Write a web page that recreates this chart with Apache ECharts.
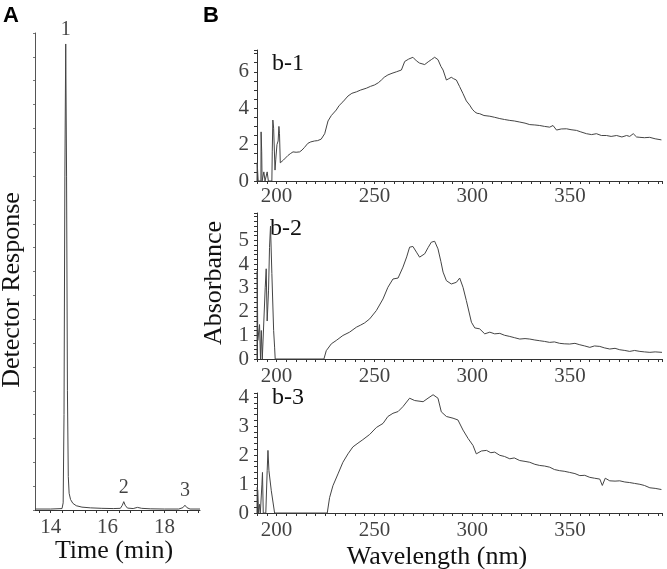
<!DOCTYPE html>
<html>
<head>
<meta charset="utf-8">
<script src="https://cdn.jsdelivr.net/npm/echarts@6/dist/echarts.min.js"></script>
<style>html,body{margin:0;padding:0;background:#fff;}#c{width:667px;height:569px;}</style>
</head>
<body>
<div id="c"></div>
<script>
// ---------- Panel A: chromatogram ----------
const chromTime = [13.45,14.0,14.4,14.44,14.47,14.5,14.53,14.56,14.59,14.62,14.65,14.7,14.78,14.9,15.1,15.4,15.8,16.2,16.45,16.52,16.57,16.62,16.7,16.9,17.05,17.12,17.2,17.5,18.0,18.5,18.65,18.72,18.79,18.9,19.25];
const chromResp = [0.2,0.2,0.3,1.5,20,70,97.7,70,25,7,3.5,2.2,1.4,0.9,0.6,0.45,0.35,0.3,0.35,1.0,1.75,1.0,0.4,0.3,0.55,0.6,0.35,0.25,0.2,0.2,0.5,1.0,0.5,0.2,0.2];
const peakTime = [14.53,16.57,18.72];
const peakResp = [97.7,1.75,1.0];
const peakNames = ['1','2','3'];
const chromXLabels = [14,16,18];
const chromXTicks = [13.6,14.0,14.4,14.8,15.2,15.6,16.0,16.4,16.8,17.2,17.6,18.0,18.4,18.8,19.2];

// ---------- Panel B: UV spectra ----------
const wl1 = [190.0,190.1,190.5,190.6,192.0,192.1,192.4,192.6,193.4,193.5,
  194.0,194.1,195.1,195.2,195.7,195.8,197.6,197.8,198.1,198.5,
  199.2,199.6,200.2,200.8,201.2,201.5,201.9,202.4,203.5,204.5,
  205.8,207.0,208.4,210.0,211.8,213.0,214.3,216.0,217.5,219.4,
  221.0,222.8,224.6,226.3,228.0,230.5,232.0,233.9,236.5,238.5,
  240.8,243.0,245.9,248.0,250.1,252.0,253.6,255.0,256.9,259.0,
  261.2,263.8,265.5,267.5,269.7,271.5,273.1,275.7,277.5,279.1,
  280.8,282.5,284.0,285.1,286.8,288.0,289.3,290.5,291.9,293.5,
  295.3,297.0,298.7,300.0,301.3,302.5,303.8,306.0,309.0,311.5,
  314.1,316.5,319.2,321.5,324.3,327.0,329.4,332.0,334.5,337.0,
  339.6,341.3,343.1,345.5,348.2,350.5,353.3,355.5,358.4,361.0,
  363.5,366.0,368.6,371.0,373.8,376.5,378.9,380.5,382.3,384.0,
  385.7,388.0,390.7,393.5,396.7];
const abs1 = [0,1.0,1.0,0,0,2.7,1.6,0,0,0.5,
  0.5,0,0,0.5,0.5,0,0,1.6,3.35,2.9,
  0.6,1.2,2.0,2.2,3.0,2.6,1.0,1.1,1.15,1.1,
  1.4,1.5,1.6,1.58,1.6,1.7,1.85,2.07,2.15,2.2,
  2.22,2.3,2.6,3.3,3.6,3.9,4.15,4.35,4.67,4.82,
  4.9,5.0,5.1,5.2,5.28,5.4,5.55,5.7,5.83,5.92,
  6.0,6.1,6.57,6.7,6.8,6.6,6.48,6.4,6.55,6.67,
  6.8,6.67,6.3,6.1,5.55,5.62,5.7,5.62,5.55,5.2,
  4.8,4.4,4.17,3.95,3.8,3.72,3.7,3.6,3.56,3.5,
  3.43,3.38,3.33,3.3,3.24,3.18,3.1,3.08,3.05,3.0,
  2.96,3.05,2.8,2.86,2.87,2.82,2.78,2.7,2.6,2.55,
  2.6,2.5,2.5,2.45,2.5,2.42,2.5,2.45,2.6,2.42,
  2.4,2.38,2.4,2.32,2.26];

const wl2 = [190.0,190.1,190.3,190.4,191.3,191.8,192.2,192.7,193.5,194.2,
  194.7,195.2,195.9,196.4,196.9,197.6,198.5,199.0,199.3,224.2,
  225.4,228.0,230.5,233.9,237.3,240.8,243.0,245.0,247.6,251.0,
  254.4,256.9,259.5,262.1,264.6,266.5,268.0,269.7,271.5,273.1,
  275.7,277.5,279.1,280.8,282.5,284.0,285.1,286.8,289.3,291.9,
  293.6,295.3,297.0,299.6,301.3,303.8,306.4,309.0,311.5,314.1,
  316.5,319.2,321.5,324.3,327.0,329.4,332.0,334.5,337.0,339.6,
  342.0,344.7,347.0,349.8,352.5,355.0,357.5,360.1,362.5,365.2,
  367.5,370.3,373.0,375.4,378.0,380.5,383.0,385.7,388.0,390.8,
  393.5,397.0];
const abs2 = [0,3.7,1.9,0.78,1.45,0,1.2,0,0,3.0,
  3.8,1.6,2.9,4.7,5.6,3.6,1.2,0.5,0,0,
  0.35,0.64,0.78,0.99,1.13,1.34,1.43,1.52,1.69,2.04,
  2.53,3.02,3.37,3.41,3.87,4.3,4.71,4.74,4.5,4.29,
  4.43,4.7,4.92,4.96,4.64,4.1,3.66,3.3,3.16,3.23,
  3.41,3.02,2.46,1.55,1.31,1.27,1.06,1.13,1.06,1.08,
  1.0,0.95,0.9,0.84,0.86,0.84,0.8,0.77,0.74,0.70,
  0.72,0.66,0.64,0.63,0.66,0.6,0.55,0.49,0.55,0.53,
  0.47,0.42,0.45,0.39,0.36,0.32,0.36,0.32,0.3,0.28,
  0.3,0.28];

const wl3 = [190.0,190.1,190.4,190.8,191.3,191.7,192.3,192.5,192.8,193.2,
  194.5,195.2,195.6,196.1,197.3,199.0,225.9,227.1,228.8,231.4,
  233.9,236.5,239.0,241.6,244.1,247.6,251.0,254.4,256.9,259.5,
  262.1,264.6,268.0,270.6,274.9,277.4,280.0,282.5,284.2,286.8,
  290.2,292.7,295.3,297.9,300.4,302.1,304.7,307.3,309.5,311.5,
  314.1,316.5,319.2,321.5,324.3,327.0,329.4,332.0,334.5,337.0,
  339.6,342.0,344.7,347.0,349.8,352.5,355.0,357.5,360.1,362.5,
  365.2,366.5,368.0,370.3,373.0,375.4,378.0,380.5,383.0,385.7,
  388.0,390.8,393.5,396.7];
const abs3 = [0,0.88,0.77,0,0.3,0,0,0.97,1.4,0,
  0,1.46,2.16,1.46,0.77,0,0,0.53,0.94,1.35,
  1.75,2.04,2.28,2.41,2.53,2.71,2.95,3.09,3.33,3.44,
  3.5,3.67,3.96,3.88,3.84,3.96,4.08,3.96,3.49,3.33,
  3.27,3.21,2.86,2.57,2.33,2.04,2.14,2.16,2.08,2.1,
  1.99,1.95,1.87,1.9,1.81,1.78,1.75,1.68,1.64,1.62,
  1.58,1.5,1.46,1.44,1.4,1.36,1.29,1.3,1.23,1.2,
  1.17,0.95,1.2,1.11,1.1,1.11,1.07,1.05,1.02,0.99,
  0.95,0.87,0.85,0.81];

const wlLabels = [200,250,300,350];
const b1YLabels = [0,2,4,6];
const b2YLabels = [0,1,2,3,4,5];
const b3YLabels = [0,1,2,3,4];
const panelNames = ['b-1','b-2','b-3'];

// ---------- build ----------
const zip = (xs, ys) => xs.map((x, i) => [x, ys[i]]);
const SERIF = 'Liberation Serif';
const LINE = '#444';
const AX = '#333';
const WL_MIN = 190;

function xAxisB(gi) {
  return {
    type: 'value', gridIndex: gi, min: WL_MIN, max: 397, interval: 5,
    axisLine: {show: true, onZero: false, lineStyle: {color: AX, width: 1}},
    axisTick: {show: true, length: 3, inside: false, lineStyle: {color: AX}},
    axisLabel: {show: false},
    splitLine: {show: false}
  };
}
function yAxisB(gi, max, interval) {
  return {
    type: 'value', gridIndex: gi, min: 0, max: max, interval: interval,
    axisLine: {show: true, onZero: false, lineStyle: {color: AX, width: 1}},
    axisTick: {show: true, length: 3, lineStyle: {color: AX}},
    axisLabel: {show: false},
    splitLine: {show: false}
  };
}
function lineSeries(xi, data) {
  return {
    type: 'line', xAxisIndex: xi, yAxisIndex: xi, data: data,
    showSymbol: false, symbol: 'none', silent: true,
    lineStyle: {color: LINE, width: 1}
  };
}
// tick labels drawn as series labels at axis values (serif font)
function tickLabelSeries(xi, points, position, distance) {
  return {
    type: 'scatter', xAxisIndex: xi, yAxisIndex: xi, symbolSize: 0, silent: true, clip: false,
    data: points.map(p => ({value: p.v, name: p.t})),
    label: {show: true, position: position, distance: distance, formatter: q => q.name,
      fontFamily: SERIF, fontSize: 21, color: '#111'}
  };
}
const xLab = (list, y) => list.map(v => ({v: [v, y], t: String(v)}));
const yLab = (list, x) => list.map(v => ({v: [x, v], t: String(v)}));

const chart = echarts.init(document.getElementById('c'), null, {renderer: 'canvas'});
chart.setOption({
  animation: false,
  backgroundColor: '#fff',
  grid: [
    {left: 35, top: 33, width: 165, height: 477},
    {left: 257, top: 50, width: 405, height: 131},
    {left: 257, top: 213, width: 405, height: 146},
    {left: 257, top: 393, width: 405, height: 120}
  ],
  xAxis: [
    {
      type: 'value', gridIndex: 0, min: 13.45, max: 19.25,
      axisLine: {show: true, onZero: false, lineStyle: {color: AX, width: 1}},
      axisTick: {show: true, length: 3, customValues: chromXTicks, lineStyle: {color: AX}},
      axisLabel: {show: false},
      splitLine: {show: false}
    },
    xAxisB(1), xAxisB(2), xAxisB(3)
  ],
  yAxis: [
    {
      type: 'value', gridIndex: 0, min: 0, max: 100, interval: 5,
      axisLine: {show: true, onZero: false, lineStyle: {color: '#555', width: 1}},
      axisTick: {show: true, length: 2, lineStyle: {color: '#777'}},
      axisLabel: {show: false},
      splitLine: {show: false}
    },
    yAxisB(1, 7.2, 0.5),
    yAxisB(2, 6.15, 0.2),
    yAxisB(3, 4.14, 0.2)
  ],
  series: [
    lineSeries(0, zip(chromTime, chromResp)),
    {
      type: 'scatter', xAxisIndex: 0, yAxisIndex: 0, symbolSize: 0, silent: true,
      data: peakTime.map((t, i) => ({value: [t, peakResp[i]], name: peakNames[i]})),
      label: {show: true, position: 'top', distance: 4, formatter: p => p.name,
        fontFamily: SERIF, fontSize: 20, color: '#111'}
    },
    lineSeries(1, zip(wl1, abs1)),
    lineSeries(2, zip(wl2, abs2)),
    lineSeries(3, zip(wl3, abs3)),
    tickLabelSeries(0, xLab(chromXLabels, 0), 'bottom', 7),
    tickLabelSeries(1, xLab(wlLabels, 0), 'bottom', 5),
    tickLabelSeries(2, xLab(wlLabels, 0), 'bottom', 7),
    tickLabelSeries(3, xLab(wlLabels, 0), 'bottom', 7),
    tickLabelSeries(1, yLab(b1YLabels, WL_MIN), 'left', 8),
    tickLabelSeries(2, yLab(b2YLabels, WL_MIN), 'left', 8),
    tickLabelSeries(3, yLab(b3YLabels, WL_MIN), 'left', 8)
  ],
  graphic: [
    {type: 'text', x: 3, y: 5, style: {text: 'A', font: 'bold 22px "Liberation Sans"', fill: '#000'}},
    {type: 'text', x: 203, y: 5, style: {text: 'B', font: 'bold 22px "Liberation Sans"', fill: '#000'}},
    {type: 'text', x: 12, y: 290, rotation: Math.PI / 2,
      style: {text: 'Detector Response', font: '26px "Liberation Serif"', fill: '#111', textAlign: 'center', textVerticalAlign: 'middle'}},
    {type: 'text', x: 114, y: 551,
      style: {text: 'Time (min)', font: '26px "Liberation Serif"', fill: '#111', textAlign: 'center', textVerticalAlign: 'middle'}},
    {type: 'text', x: 214, y: 283, rotation: Math.PI / 2,
      style: {text: 'Absorbance', font: '26px "Liberation Serif"', fill: '#111', textAlign: 'center', textVerticalAlign: 'middle'}},
    {type: 'text', x: 437, y: 557,
      style: {text: 'Wavelength (nm)', font: '26px "Liberation Serif"', fill: '#111', textAlign: 'center', textVerticalAlign: 'middle'}},
    {type: 'text', x: 272, y: 64,
      style: {text: panelNames[0], font: '24px "Liberation Serif"', fill: '#111', textAlign: 'left', textVerticalAlign: 'middle'}},
    {type: 'text', x: 270, y: 229,
      style: {text: panelNames[1], font: '24px "Liberation Serif"', fill: '#111', textAlign: 'left', textVerticalAlign: 'middle'}},
    {type: 'text', x: 272, y: 398,
      style: {text: panelNames[2], font: '24px "Liberation Serif"', fill: '#111', textAlign: 'left', textVerticalAlign: 'middle'}}
  ]
});
</script>
</body>
</html>
